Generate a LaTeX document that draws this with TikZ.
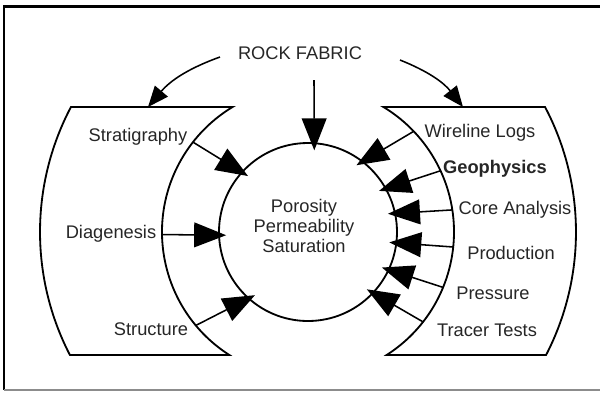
\documentclass[tikz,border=0pt]{standalone}
\usepackage{fontspec}
\setmainfont{Liberation Sans}
\usetikzlibrary{arrows.meta}

\tikzset{
  lbl/.style={text=black!85, font=\fontsize{13}{14.2}\selectfont},
  bigarrow/.style={-{Triangle[length=0.8cm, width=0.62cm]}, line width=1.1pt, shorten >=-0.2cm},
  bendarrow/.style={-{Triangle[length=0.52cm, width=0.42cm]}, line width=1.1pt}
}

\begin{document}
\begin{tikzpicture}
\useasboundingbox (-7.7,-4.0) rectangle (7.3,5.8);

% Frame
\draw[line width=1.5pt] (7.3,5.6375) -- (-7.6,5.6375) -- (-7.6,-3.95);
\draw[line width=1pt, black!45] (-7.6,-3.95) -- (7.3,-3.95);

% Boxes (pieces of rings)
\draw[line width=1.3pt] (152.2:6.7) arc[start angle=152.2, end angle=207.3, radius=6.7]
  -- (237.4:3.65) arc[start angle=237.4, end angle=121.1, radius=3.65] -- cycle;
\draw[line width=1.3pt] (27.8:6.7) arc[start angle=27.8, end angle=-27.3, radius=6.7]
  -- (-57.4:3.65) arc[start angle=-57.4, end angle=58.9, radius=3.65] -- cycle;

% Centre circle
\node[circle, draw, line width=1.3pt, minimum size=4.45cm] (pps) at (0,0) {};
\node[lbl, align=center] (props) at (-0.1,0.15) {Porosity\\Permeability\\Saturation};

% Rock fabric
\node[lbl] (rock) at (-0.2,4.475) {ROCK FABRIC};
\coordinate (rfl) at (-2.2,4.375);
\coordinate (rfm) at (0.15,3.8);
\coordinate (rfr) at (2.3,4.3);
\coordinate (lbox) at (-4.0,3.125);
\coordinate (rbox) at (3.875,3.125);
\draw[bendarrow] (rfl) to[bend right=15] (lbox);
\draw[bendarrow] (rfr) to[bend left=15] (rbox);
\draw[bigarrow] (rfm) -- (pps.86);

% Left labels
\node[lbl] (strat) at (-4.25,2.375) {Stratigraphy};
\node[lbl] (diag) at (-4.925,-0.05) {Diagenesis};
\node[lbl] (struct) at (-3.925,-2.425) {Structure};

% Right labels
\node[lbl] (wire) at (4.3,2.475) {Wireline Logs};
\node[lbl, font=\fontsize{13}{14.2}\selectfont\bfseries] (geo) at (4.675,1.575) {Geophysics};
\node[lbl] (corean) at (5.175,0.55) {Core Analysis};
\node[lbl] (prod) at (5.075,-0.525) {Production};
\node[lbl] (press) at (4.625,-1.525) {Pressure};
\node[lbl] (tracer) at (4.475,-2.45) {Tracer Tests};

% Arrows from the boxes into the circle
\foreach \a/\b [count=\i] in {142/138, 181/182, 219.8/228, 43.6/52, 24.8/29, 8.7/12, -5.9/353, -22.3/335, -38/317}
{
  \coordinate (src\i) at (\a:3.65);
  \draw[bigarrow] (src\i) -- (pps.\b);
}

\end{tikzpicture}
\end{document}
